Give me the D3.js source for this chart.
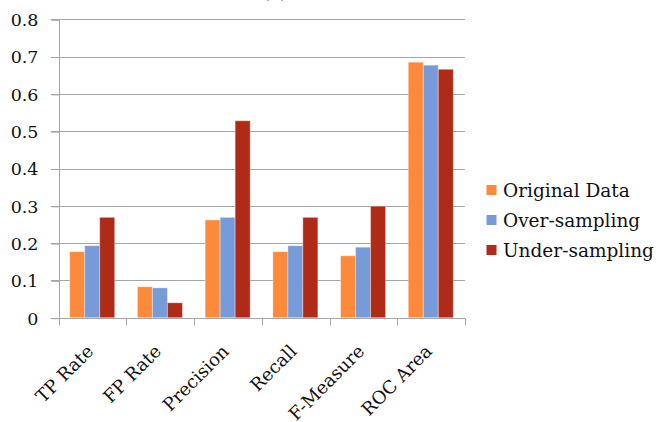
<!DOCTYPE html>
<html>
<head>
<meta charset="utf-8">
<script src="https://cdn.jsdelivr.net/npm/d3@7"></script>
<style>
  body { margin: 0; background: #fff; }
  svg text { font-family: "DejaVu Serif", serif; fill: #111; }
</style>
</head>
<body>
<div id="my_dataviz"></div>
<script>
// data
var categories = ["TP Rate", "FP Rate", "Precision", "Recall", "F-Measure", "ROC Area"];
var seriesNames = ["Original Data", "Over-sampling", "Under-sampling"];
var originalData  = [0.177, 0.083, 0.262, 0.177, 0.166, 0.685];
var overSampling  = [0.193, 0.080, 0.269, 0.193, 0.189, 0.677];
var underSampling = [0.269, 0.040, 0.528, 0.269, 0.299, 0.666];
var yTicks = [0, 0.1, 0.2, 0.3, 0.4, 0.5, 0.6, 0.7, 0.8];
var colors = ["#fd8a3a", "#779ad8", "#b02a18"];

var width = 659, height = 422;
var plot = {left: 58.7, right: 465, top: 19.3, bottom: 317.7};
var serif = '"DejaVu Serif", serif';

var svg = d3.select("#my_dataviz")
  .append("svg")
    .attr("width", width)
    .attr("height", height);

var values = [originalData, overSampling, underSampling];
var rows = categories.map(function(c, i) {
  return {cat: c, vals: seriesNames.map(function(s, j) { return {name: s, value: values[j][i], k: j}; })};
});

var x = d3.scaleBand()
  .domain(categories)
  .range([plot.left, plot.right]);

var x1 = d3.scaleBand()
  .domain(seriesNames)
  .range([11, 56]);

var y = d3.scaleLinear()
  .domain([0, 0.8])
  .range([plot.bottom, plot.top]);

// gridlines
svg.append("g")
  .selectAll("line")
  .data(yTicks.slice(1))
  .enter()
  .append("line")
    .attr("x1", plot.left - 8)
    .attr("x2", plot.right)
    .attr("y1", function(d) { return Math.round(y(d)) + 0.5; })
    .attr("y2", function(d) { return Math.round(y(d)) + 0.5; })
    .attr("stroke", "#a6a6a6");

// y axis
var yAxis = svg.append("g")
  .attr("transform", "translate(" + (Math.round(plot.left) + 0.5) + ",0)")
  .call(d3.axisLeft(y).tickValues(yTicks).tickSize(8).tickPadding(13)
    .tickFormat(function(d) { return d === 0 ? "0" : d3.format(".1f")(d); }));
yAxis.attr("font-family", null);
yAxis.select(".domain").attr("stroke", "#a6a6a6").attr("d", "M0," + y(0.8) + "V" + y(0));
yAxis.selectAll(".tick line").attr("stroke", "#a6a6a6").attr("transform", "translate(0,0.5)");
yAxis.selectAll("text")
  .style("font-family", serif)
  .style("font-size", "17.5px")
  .attr("fill", "#111")
  .attr("dy", "0.36em");

// bars
var groups = svg.append("g")
  .selectAll("g")
  .data(rows)
  .enter()
  .append("g")
    .attr("transform", function(d) { return "translate(" + x(d.cat) + ",0)"; });

groups.selectAll("rect")
  .data(function(d) { return d.vals; })
  .enter()
  .append("rect")
    .attr("x", function(d) { return x1(d.name); })
    .attr("width", x1.bandwidth())
    .attr("y", function(d) { return y(d.value); })
    .attr("height", function(d) { return y(0) - y(d.value); })
    .attr("fill", function(d) { return colors[d.k]; })
    .attr("stroke", "#fff")
    .attr("stroke-opacity", 0.35)
    .attr("stroke-width", 1);

// x axis
var xAxis = svg.append("g")
  .attr("transform", "translate(0," + (Math.round(plot.bottom) + 0.5) + ")");
xAxis.append("line")
  .attr("x1", plot.left - 8)
  .attr("x2", plot.right)
  .attr("stroke", "#a6a6a6");
xAxis.selectAll(".cattick")
  .data(categories.concat(["end"]))
  .enter()
  .append("line")
    .attr("class", "cattick")
    .attr("x1", function(d, i) { return Math.round(plot.left + i * x.bandwidth()) + 0.5; })
    .attr("x2", function(d, i) { return Math.round(plot.left + i * x.bandwidth()) + 0.5; })
    .attr("y1", 0)
    .attr("y2", 7)
    .attr("stroke", "#a6a6a6");

xAxis.selectAll(".catlabel")
  .data(categories)
  .enter()
  .append("text")
    .attr("class", "catlabel")
    .attr("transform", function(d) {
      return "translate(" + (x(d) + x.bandwidth() / 2 + 2) + ",34) rotate(-45)";
    })
    .attr("text-anchor", "end")
    .style("font-family", serif)
    .style("font-size", "18px")
    .text(function(d) { return d; });

// title, cut off by the top edge
svg.append("text")
  .attr("x", 275)
  .attr("y", -2)
  .attr("text-anchor", "middle")
  .style("font-family", serif)
  .style("font-size", "18px")
  .text("(a)");

// legend
var legend = svg.append("g")
  .attr("transform", "translate(486.5,190)");
var item = legend.selectAll("g")
  .data(seriesNames)
  .enter()
  .append("g")
    .attr("transform", function(d, i) { return "translate(0," + (i * 30) + ")"; });
item.append("rect")
  .attr("x", 0)
  .attr("y", -5)
  .attr("width", 10)
  .attr("height", 10)
  .attr("fill", function(d, i) { return colors[i]; });
item.append("text")
  .attr("x", 16.5)
  .attr("y", 0)
  .attr("dy", "0.36em")
  .style("font-family", serif)
  .style("font-size", "18.5px")
  .text(function(d) { return d; });
</script>
</body>
</html>
